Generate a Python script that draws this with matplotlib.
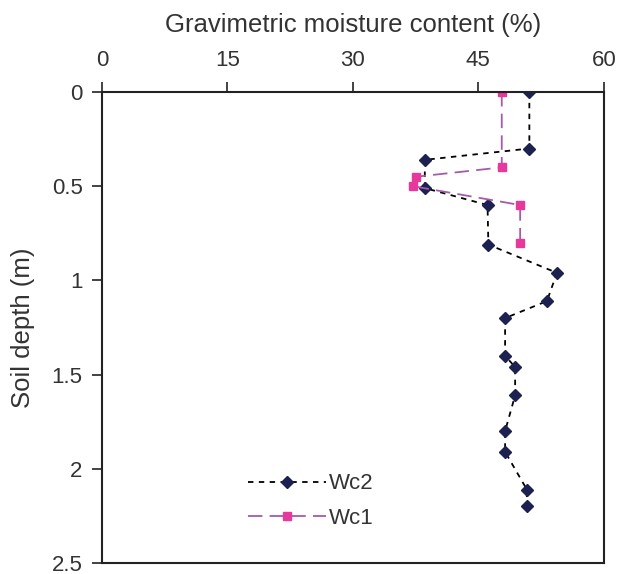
import matplotlib
matplotlib.use('Agg')
import matplotlib.pyplot as plt

plt.rcParams['font.family'] = ['Liberation Sans', 'DejaVu Sans']

# Wc2 profile
depth_wc2 = [0, 0.30, 0.36, 0.51, 0.60, 0.81, 0.96, 1.11, 1.20, 1.40, 1.46, 1.61, 1.80, 1.91, 2.11, 2.20]
wc2 = [51.1, 51.1, 38.6, 38.6, 46.1, 46.2, 54.4, 53.2, 48.2, 48.2, 49.4, 49.4, 48.2, 48.2, 50.8, 50.8]

# Wc1 profile
depth_wc1 = [0, 0.40, 0.45, 0.50, 0.60, 0.80]
wc1 = [47.8, 47.8, 37.5, 37.2, 50.0, 50.0]

x_ticks = [0, 15, 30, 45, 60]
y_ticks = [0, 0.5, 1, 1.5, 2, 2.5]
y_tick_labels = ['0', '0.5', '1', '1.5', '2', '2.5']

fig = plt.figure(figsize=(6.18, 5.74), dpi=100)
ax = fig.add_axes([0.165, 0.0192, 0.812, 0.8205])

ax.plot(wc2, depth_wc2, color='black', linestyle=(0, (3, 3)), linewidth=1.3,
        marker='D', markersize=6, markerfacecolor='#1c2150', markeredgecolor='#1c2150',
        label='Wc2')
ax.plot(wc1, depth_wc1, color='#a35ca8', linestyle=(0, (8, 4)), linewidth=1.3,
        marker='s', markersize=6, markerfacecolor='#e6399b', markeredgecolor='#e6399b',
        label='Wc1')

ax.set_xlim(0, 60)
ax.set_ylim(2.5, 0)
ax.set_xticks(x_ticks)
ax.set_yticks(y_ticks)
ax.set_yticklabels(y_tick_labels)
ax.xaxis.tick_top()
ax.xaxis.set_label_position('top')
ax.tick_params(axis='both', direction='out', length=7, width=1.2,
               labelsize=16, labelcolor='#333333', color='#222222')
ax.tick_params(axis='x', pad=8)
ax.tick_params(axis='y', pad=7)
ax.set_xlabel('Gravimetric moisture content (%)', fontsize=18.5, color='#333333', labelpad=13)
ax.set_ylabel('Soil depth (m)', fontsize=18.5, color='#333333', labelpad=12)
for s in ax.spines.values():
    s.set_linewidth(1.5)
    s.set_color('#222222')

ax.legend(loc='upper left', bbox_to_anchor=(0.291, 0.19), frameon=False, fontsize=16,
          handlelength=3.5, labelspacing=0.6, handletextpad=0.15, borderpad=0,
          borderaxespad=0, labelcolor='#333333')

fig.savefig('out.png', dpi=100)
